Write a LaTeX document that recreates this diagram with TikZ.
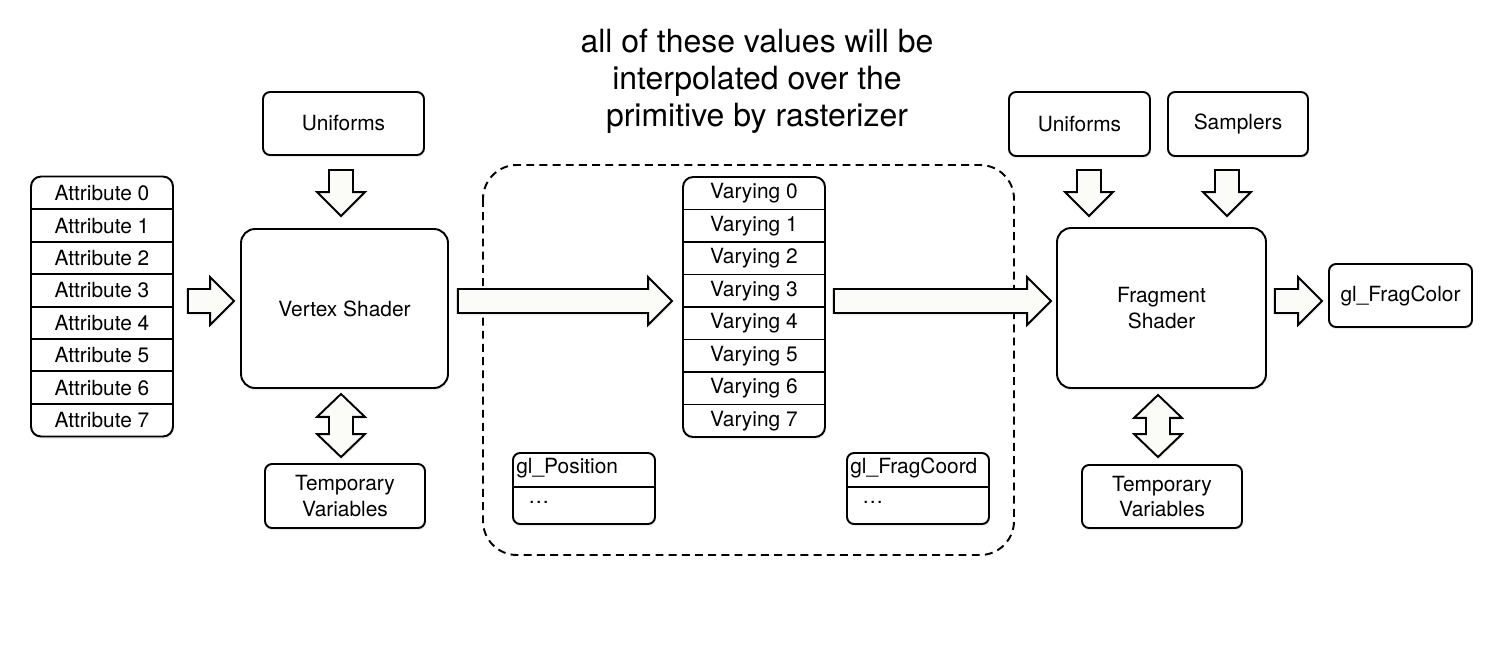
\documentclass[tikz,border=0pt]{standalone}
\usepackage{fontspec}
\setmainfont{TeX Gyre Heros}
\usetikzlibrary{calc,shadows}

\definecolor{arrowfill}{RGB}{251,251,247}

\tikzset{
  softshadow/.style={drop shadow={opacity=0.15, shadow xshift=0.4pt, shadow yshift=-1.3pt}},
  plainbox/.style={draw, fill=white, rounded corners=0.14cm, line width=1.1pt,
    softshadow, inner sep=0pt, align=center, font=\fontsize{11.9}{14.4}\selectfont},
  shaderbox/.style={plainbox, rounded corners=0.28cm},
  stackbox/.style={plainbox, rounded corners=0.2cm, minimum width=2.84cm, minimum height=5.2cm},
  cell/.style={inner sep=0pt, font=\fontsize{11.9}{14.4}\selectfont},
  arrowbody/.style={draw, fill=arrowfill, line width=1.1pt, softshadow},
}

% fat arrow from tail #1 to tip #2
\newcommand{\fatarrow}[2]{%
  \path ($(#2)!0.48cm!(#1)$) coordinate (hb);
  \draw[arrowbody] ($(#1)!0.24cm!90:(#2)$) -- ($(hb)!0.24cm!90:(#2)$)
    -- ($(hb)!0.48cm!90:(#2)$) -- (#2) -- ($(hb)!0.48cm!-90:(#2)$)
    -- ($(hb)!0.24cm!-90:(#2)$) -- ($(#1)!0.24cm!-90:(#2)$) -- cycle;}
% fat arrow with two heads
\newcommand{\fatboth}[2]{%
  \path ($(#2)!0.46cm!(#1)$) coordinate (hb) ($(#1)!0.46cm!(#2)$) coordinate (tb);
  \draw[arrowbody] (#1) -- ($(tb)!0.48cm!90:(#2)$) -- ($(tb)!0.24cm!90:(#2)$)
    -- ($(hb)!0.24cm!90:(#2)$) -- ($(hb)!0.48cm!90:(#2)$) -- (#2)
    -- ($(hb)!0.48cm!-90:(#2)$) -- ($(hb)!0.24cm!-90:(#2)$)
    -- ($(tb)!0.24cm!-90:(#2)$) -- ($(tb)!0.48cm!-90:(#2)$) -- cycle;}

\begin{document}
\begin{tikzpicture}[x=0.02cm, y=-0.02cm]
\useasboundingbox (0,0) rectangle (1498,650);

\node[font=\fontsize{18.2}{21}\selectfont, align=center] (title) at (757,81)
  {all of these values will be\\ interpolated over the\\ primitive by rasterizer};

% interpolation region
\draw[line width=1.1pt, dash pattern=on 4.5pt off 3pt, rounded corners=0.68cm]
  (483,165) rectangle (1014,555);

% attribute stack
\node[stackbox] (attr) at (102,306.5) {};
\foreach \i in {1,...,7}
  \draw[line width=1.1pt] (31,{177+\i*32.4}) -- (173,{177+\i*32.4});
\foreach \i in {0,...,7}
  \node[cell] (attr\i) at (102,{177+(\i+0.5)*32.4}) {Attribute \i};

% vertex stage
\node[plainbox, minimum width=3.22cm, minimum height=1.26cm] (uniL) at (343.5,123.5) {Uniforms};
\node[shaderbox, minimum width=4.14cm, minimum height=3.18cm] (vs) at (344.5,308.5) {Vertex Shader};
\node[plainbox, minimum width=3.2cm, minimum height=1.28cm] (tmpL) at (345,496) {Temporary\\ Variables};

% varying stack
\node[stackbox] (var) at (754,307) {};
\foreach \i in {1,...,7}
  \draw[line width=1.1pt] (683,{177+\i*32.5}) -- (825,{177+\i*32.5});
\foreach \i in {0,...,7}
  \node[cell] (var\i) at (754,{177+(\i+0.5)*32.5}) {Varying \i};

% built-in variables
\node[plainbox, minimum width=2.84cm, minimum height=1.42cm] (glpos) at (584,488.5) {};
\draw[line width=1.1pt] (513,487) -- (655,487);
\node[cell, anchor=west] (glposname) at (516,468) {gl\_Position};
\node[cell, anchor=west] (glposdots) at (528,502) {\dots};
\node[plainbox, minimum width=2.84cm, minimum height=1.42cm] (glfc) at (918,488.5) {};
\draw[line width=1.1pt] (847,487) -- (989,487);
\node[cell, anchor=west] (glfcname) at (850,468) {gl\_FragCoord};
\node[cell, anchor=west] (glfcdots) at (862,502) {\dots};

% fragment stage
\node[plainbox, minimum width=2.82cm, minimum height=1.28cm] (uniR) at (1079.5,124) {Uniforms};
\node[plainbox, minimum width=2.8cm, minimum height=1.28cm] (smp) at (1238,124) {Samplers};
\node[shaderbox, minimum width=4.18cm, minimum height=3.2cm] (fs) at (1161.5,308) {Fragment\\ Shader};
\node[plainbox, minimum width=3.2cm, minimum height=1.26cm] (tmpR) at (1162,496.5) {Temporary\\ Variables};
\node[plainbox, minimum width=2.86cm, minimum height=1.26cm] (fc) at (1400.5,295.5) {gl\_FragColor};

% arrows
\coordinate (ay) at (0,301);
\coordinate (x1) at (341,0);
\coordinate (x2) at (1089,0);
\coordinate (x3) at (1227,0);
\coordinate (x4) at (1158,0);

\path ($(attr.east |- ay)+(14,0)$) coordinate (a1t) ($(vs.west |- ay)+(-6,0)$) coordinate (a1h);
\fatarrow{a1t}{a1h}
\path ($(vs.east |- ay)+(9,0)$) coordinate (a2t) ($(var.west |- ay)+(-10,0)$) coordinate (a2h);
\fatarrow{a2t}{a2h}
\path ($(var.east |- ay)+(8,0)$) coordinate (a3t) ($(fs.west |- ay)+(-5,0)$) coordinate (a3h);
\fatarrow{a3t}{a3h}
\path ($(fs.east |- ay)+(8,0)$) coordinate (a4t) ($(fc.west |- ay)+(-6,0)$) coordinate (a4h);
\fatarrow{a4t}{a4h}

\path ($(x1 |- uniL.south)+(0,14)$) coordinate (d1t) ($(x1 |- vs.north)+(0,-12)$) coordinate (d1h);
\fatarrow{d1t}{d1h}
\path ($(x2 |- uniR.south)+(0,13)$) coordinate (d2t) ($(x2 |- fs.north)+(0,-11)$) coordinate (d2h);
\fatarrow{d2t}{d2h}
\path ($(x3 |- smp.south)+(0,13)$) coordinate (d3t) ($(x3 |- fs.north)+(0,-11)$) coordinate (d3h);
\fatarrow{d3t}{d3h}

\path ($(x1 |- vs.south)+(0,5)$) coordinate (b1t) ($(x1 |- tmpL.north)+(0,-6)$) coordinate (b1h);
\fatboth{b1t}{b1h}
\path ($(x4 |- fs.south)+(0,6)$) coordinate (b2t) ($(x4 |- tmpR.north)+(0,-7)$) coordinate (b2h);
\fatboth{b2t}{b2h}
\end{tikzpicture}
\end{document}
